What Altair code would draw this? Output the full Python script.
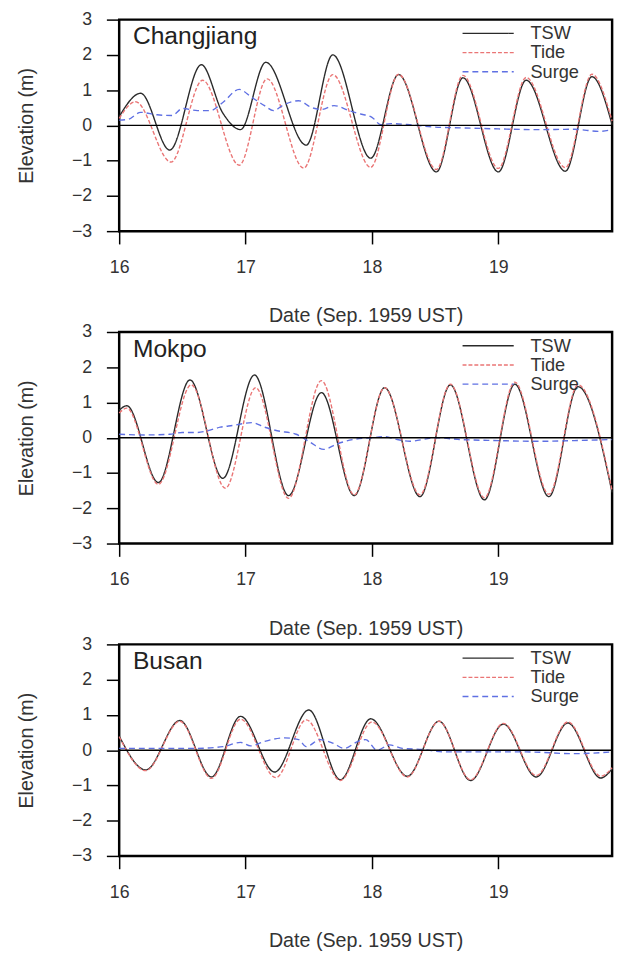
import altair as alt
import pandas as pd

# ---------------- data ----------------
names = ["TSW", "Tide", "Surge"]
colors = ["#2a2a2a", "#ea7575", "#5f70e3"]
dashes = [[1, 0], [4, 2], [6, 4]]
stations = ["Changjiang", "Mokpo", "Busan"]
x_ticks = [16, 17, 18, 19]
y_ticks = [-3, -2, -1, 0, 1, 2, 3]

# Changjiang
cj_tsw_t = [16.00, 16.17, 16.40, 16.65, 16.82, 16.96, 17.16, 17.48, 17.69, 17.99, 18.21, 18.51, 18.72, 19.00, 19.22, 19.53, 19.74, 19.90]
cj_tsw_v = [0.25, 0.91, -0.70, 1.72, 0.35, -0.12, 1.79, -0.56, 2.00, -0.93, 1.44, -1.32, 1.35, -1.32, 1.28, -1.30, 1.38, 0.02]
cj_tide_t = [16.00, 16.13, 16.41, 16.66, 16.95, 17.17, 17.46, 17.69, 17.99, 18.21, 18.51, 18.72, 19.00, 19.22, 19.53, 19.74, 19.90]
cj_tide_v = [0.20, 0.67, -1.04, 1.28, -1.13, 1.32, -1.21, 1.44, -1.19, 1.45, -1.25, 1.42, -1.22, 1.36, -1.20, 1.45, 0.12]
cj_surge_t = [16.00, 16.07, 16.17, 16.30, 16.42, 16.50, 16.62, 16.72, 16.82, 16.95, 17.05, 17.15, 17.22, 17.30, 17.42, 17.52, 17.60, 17.70, 17.82, 17.90, 18.00, 18.07, 18.15, 18.30, 18.50, 18.70, 19.00, 19.30, 19.60, 19.80, 19.90]
cj_surge_v = [0.15, 0.17, 0.37, 0.30, 0.28, 0.48, 0.42, 0.42, 0.65, 1.02, 0.79, 0.56, 0.42, 0.58, 0.70, 0.51, 0.45, 0.56, 0.42, 0.33, 0.23, 0.02, 0.05, 0.02, -0.05, -0.07, -0.10, -0.12, -0.11, -0.17, -0.12]

# Mokpo
mk_tsw_t = [16.00, 16.06, 16.31, 16.56, 16.82, 17.07, 17.34, 17.60, 17.86, 18.10, 18.38, 18.62, 18.89, 19.13, 19.40, 19.63, 19.90]
mk_tsw_v = [0.78, 0.91, -1.27, 1.64, -1.15, 1.78, -1.64, 1.28, -1.64, 1.42, -1.67, 1.50, -1.76, 1.52, -1.67, 1.45, -1.55]
mk_tide_t = [16.00, 16.06, 16.31, 16.57, 16.84, 17.08, 17.34, 17.60, 17.86, 18.10, 18.38, 18.62, 18.89, 19.13, 19.40, 19.63, 19.90]
mk_tide_v = [0.70, 0.84, -1.32, 1.50, -1.43, 1.42, -1.72, 1.62, -1.62, 1.42, -1.62, 1.52, -1.70, 1.58, -1.60, 1.50, -1.50]
mk_surge_t = [16.00, 16.20, 16.40, 16.50, 16.62, 16.70, 16.80, 16.90, 17.05, 17.15, 17.25, 17.40, 17.50, 17.62, 17.72, 17.85, 18.00, 18.10, 18.20, 18.30, 18.50, 18.70, 19.00, 19.30, 19.60, 19.90]
mk_surge_v = [0.10, 0.08, 0.10, 0.15, 0.15, 0.20, 0.30, 0.35, 0.43, 0.30, 0.20, 0.10, -0.10, -0.33, -0.18, -0.05, 0.00, 0.03, -0.05, -0.10, 0.00, -0.05, -0.08, -0.10, -0.08, -0.05]

# Busan
bs_tsw_t = [16.00, 16.21, 16.48, 16.73, 16.96, 17.23, 17.50, 17.75, 17.99, 18.28, 18.53, 18.78, 19.04, 19.30, 19.55, 19.81, 19.90]
bs_tsw_v = [0.40, -0.56, 0.84, -0.76, 0.96, -0.62, 1.14, -0.84, 0.89, -0.74, 0.82, -0.86, 0.74, -0.76, 0.77, -0.79, -0.53]
bs_tide_t = [16.00, 16.21, 16.48, 16.73, 16.96, 17.24, 17.48, 17.75, 18.00, 18.28, 18.53, 18.78, 19.04, 19.30, 19.55, 19.81, 19.90]
bs_tide_v = [0.38, -0.58, 0.82, -0.80, 0.88, -0.78, 0.86, -0.86, 0.80, -0.76, 0.82, -0.84, 0.76, -0.72, 0.80, -0.74, -0.50]
bs_surge_t = [16.00, 16.30, 16.60, 16.82, 16.96, 17.04, 17.15, 17.31, 17.42, 17.48, 17.59, 17.69, 17.78, 17.89, 17.95, 18.04, 18.14, 18.24, 18.40, 18.57, 18.95, 19.22, 19.60, 19.90]
bs_surge_v = [0.05, 0.05, 0.05, 0.10, 0.22, 0.12, 0.25, 0.35, 0.30, 0.10, 0.30, 0.20, 0.05, 0.25, 0.30, 0.00, 0.15, 0.05, 0.02, -0.05, -0.05, -0.05, -0.10, -0.05]

station_series = [
    [(cj_tsw_t, cj_tsw_v), (cj_tide_t, cj_tide_v), (cj_surge_t, cj_surge_v)],
    [(mk_tsw_t, mk_tsw_v), (mk_tide_t, mk_tide_v), (mk_surge_t, mk_surge_v)],
    [(bs_tsw_t, bs_tsw_v), (bs_tide_t, bs_tide_v), (bs_surge_t, bs_surge_v)],
]

FONT = "Liberation Sans"
TXT = "#333333"
W, H = 501, 215


def panel(station, series):
    rows = []
    for name, (ts, vs) in zip(names, series):
        for t, v in zip(ts, vs):
            rows.append({"series": name, "t": t, "v": v})
    df = pd.DataFrame(rows)

    x = alt.X("t:Q", scale=alt.Scale(domain=[16, 19.9], nice=False, zero=False),
              axis=alt.Axis(values=x_ticks, format="d", title="Date (Sep. 1959 UST)",
                            labelFlush=False, labelPadding=15, titlePadding=30))
    y = alt.Y("v:Q", scale=alt.Scale(domain=[-3, 3], nice=False),
              axis=alt.Axis(values=y_ticks, format="d", title="Elevation (m)",
                            labelPadding=15, titlePadding=35.5))
    color = alt.Color("series:N", scale=alt.Scale(domain=names, range=colors), legend=None)
    dash = alt.StrokeDash("series:N", scale=alt.Scale(domain=names, range=dashes), legend=None)

    layers = []
    for name in names:
        layers.append(
            alt.Chart(df).transform_filter(alt.datum.series == name)
            .mark_line(interpolate="monotone", strokeWidth=1.4)
            .encode(x=x, y=y, color=color, strokeDash=dash)
        )
    zero = alt.Chart(pd.DataFrame({"v": [0]})).mark_rule(color="black", strokeWidth=1.5).encode(y=y)
    lines = alt.layer(*layers, zero)

    leg = pd.DataFrame({"series": names, "row": [0, 1, 2]})
    ly = alt.Y("row:Q", scale=alt.Scale(domain=[0, 2], range=[14, 53]), axis=None)
    leg_rule = alt.Chart(leg).mark_rule(strokeWidth=1.4).encode(
        x=alt.value(349), x2=alt.value(401), y=ly, color=color, strokeDash=dash)
    leg_text = alt.Chart(leg).mark_text(align="left", baseline="middle", fontSize=18.5,
                                        font=FONT, color=TXT).encode(
        x=alt.value(418), y=ly, text="series:N")
    lab = alt.Chart(pd.DataFrame({"name": [station]})).mark_text(
        align="left", baseline="alphabetic", fontSize=25, font=FONT, color="#222222").encode(
        x=alt.value(14), y=alt.value(25), text="name:N")
    legend = alt.layer(leg_rule, leg_text, lab)

    return alt.layer(lines, legend).resolve_scale(y="independent").properties(width=W, height=H)


panels = [panel(s, ser) for s, ser in zip(stations, station_series)]

chart = (
    alt.vconcat(*panels, spacing=102.5, bounds="flush")
    .properties(padding={"left": 7, "top": -7, "right": 2, "bottom": 2})
    .configure_view(stroke="black", strokeWidth=2.5)
    .configure_axis(domain=False, grid=False, tickColor="black", tickWidth=1.5, tickSize=13,
                    labelFont=FONT, labelFontSize=18, labelColor=TXT,
                    titleFont=FONT, titleFontSize=20, titleFontWeight="normal", titleColor=TXT)
)

chart.save("out.html", embed_options={"renderer": "svg", "actions": False})
